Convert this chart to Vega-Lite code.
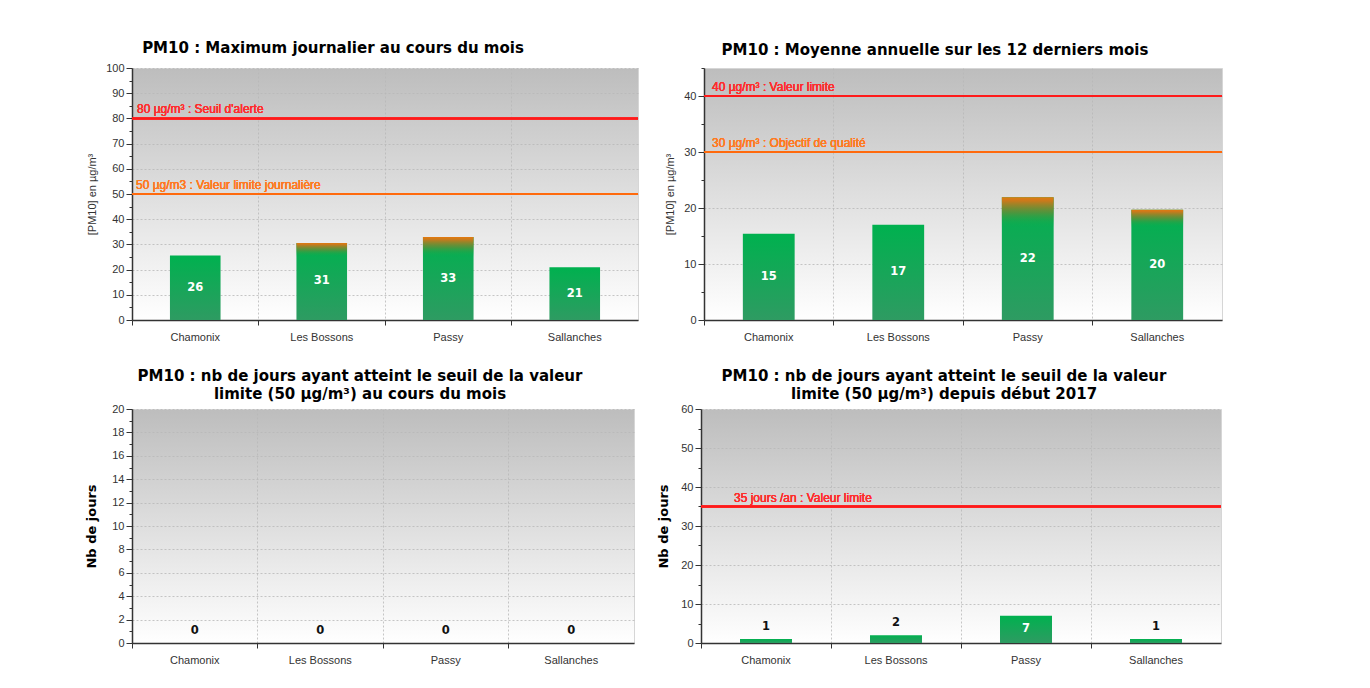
{
  "$schema": "https://vega.github.io/schema/vega-lite/v6.json",
  "background": "white",
  "padding": {"left": 85, "top": 40, "right": 5, "bottom": 5},
  "config": {
    "font": "Liberation Sans",
    "view": {
      "fill": {"gradient": "linear", "x1": 0, "y1": 0, "x2": 0, "y2": 1, "stops": [{"offset": 0, "color": "#bdbdbd"}, {"offset": 0.55, "color": "#e2e2e2"}, {"offset": 1, "color": "#ffffff"}]},
      "stroke": "#d6d6d6"
    },
    "axis": {
      "labelFont": "Liberation Sans", "labelFontSize": 11, "labelColor": "#333333",
      "domainColor": "#333333", "domainWidth": 1.5, "tickColor": "#333333",
      "gridColor": "#b8b8b8", "gridDash": [2, 2], "gridWidth": 0.8,
      "titleFont": "Liberation Sans", "titleFontSize": 11, "titleFontWeight": "normal", "titleColor": "#333333",
      "labelOverlap": false
    },
    "title": {"font": "DejaVu Sans", "fontSize": 15, "fontWeight": "bold", "color": "#000000", "anchor": "middle", "frame": "group", "lineHeight": 18}
  },
  "datasets": {
    "max_jour": [
      {"station": "Chamonix", "valeur": 25.6},
      {"station": "Les Bossons", "valeur": 30.6},
      {"station": "Passy", "valeur": 32.9},
      {"station": "Sallanches", "valeur": 20.9}
    ],
    "moy_ann": [
      {"station": "Chamonix", "valeur": 15.4},
      {"station": "Les Bossons", "valeur": 17.0},
      {"station": "Passy", "valeur": 21.9},
      {"station": "Sallanches", "valeur": 19.7}
    ],
    "jours_mois": [
      {"station": "Chamonix", "valeur": 0},
      {"station": "Les Bossons", "valeur": 0},
      {"station": "Passy", "valeur": 0},
      {"station": "Sallanches", "valeur": 0}
    ],
    "jours_annee": [
      {"station": "Chamonix", "valeur": 1},
      {"station": "Les Bossons", "valeur": 2},
      {"station": "Passy", "valeur": 7},
      {"station": "Sallanches", "valeur": 1}
    ]
  },
  "bounds": "flush",
  "spacing": 341,
  "vconcat": [
    {
      "bounds": "flush",
      "spacing": 66,
      "hconcat": [
        {
          "width": 506, "height": 252,
          "title": {"text": "PM10 : Maximum journalier au cours du mois", "dx": -52, "offset": 6},
          "data": {"name": "max_jour"},
          "layer": [
            {
              "layer": [
                {"mark": {"type": "bar", "width": {"band": 0.4}, "color": {"gradient": "linear", "x1": 0, "y1": 0, "x2": 0, "y2": 1, "stops": [{"offset": 0, "color": "#00b14f"}, {"offset": 1, "color": "#2e9b62"}]}},
                 "encoding": {
                   "x": {"field": "station", "type": "nominal", "sort": null, "scale": {"paddingInner": 0, "paddingOuter": 0},
                         "axis": {"title": null, "labelAngle": 0, "bandPosition": 0, "tickSize": 5, "grid": true, "labelPadding": 6}},
                   "y": {"field": "valeur", "type": "quantitative", "scale": {"domain": [0, 100], "nice": false},
                   "axis": {"title": "[PM10] en µg/m³", "titlePadding": 8, "format": "d", "labelOverlap": false, "tickCount": 1000, "values": [0,5,10,15,20,25,30,35,40,45,50,55,60,65,70,75,80,85,90,95,100],
                            "labelExpr": "datum.value % 10 === 0 ? datum.label : ''",
                            "tickSize": {"condition": {"test": "datum.value % 10 === 0", "value": 6}, "value": 3},
                            "gridOpacity": {"condition": {"test": "datum.value % 10 === 0", "value": 1}, "value": 0}}}}},
                {"transform": [{"filter": "datum.valeur > 28"}],
                 "mark": {"type": "bar", "width": {"band": 0.4}, "color": {"gradient": "linear", "x1": 0, "y1": 0, "x2": 0, "y2": 1, "stops": [{"offset": 0, "color": "#e27a10"}, {"offset": 0.12, "color": "#c87a1c"}, {"offset": 0.5, "color": "rgba(120,135,50,0.65)"}, {"offset": 1, "color": "rgba(0,177,79,0)"}]}},
                 "encoding": {"x": {"field": "station", "type": "nominal", "sort": null}, "y": {"field": "valeur", "type": "quantitative"}, "y2": {"datum": 25}}},
                {"mark": {"type": "rule", "color": "#ff1a1a", "strokeWidth": 2}, "encoding": {"y": {"datum": 80}}},
                {"mark": {"type": "text", "color": "#ff2e2e", "align": "left", "baseline": "bottom", "dx": 5, "dy": -2, "fontSize": 12},
                 "encoding": {"x": {"datum": "Chamonix", "bandPosition": 0}, "y": {"datum": 80}, "text": {"value": "80 µg/m³ : Seuil d'alerte"}}},
                {"mark": {"type": "rule", "color": "#ff6a0d", "strokeWidth": 2}, "encoding": {"y": {"datum": 50}}},
                {"mark": {"type": "text", "color": "#ff7a22", "align": "left", "baseline": "bottom", "dx": 4, "dy": -2, "fontSize": 12},
                 "encoding": {"x": {"datum": "Chamonix", "bandPosition": 0}, "y": {"datum": 50}, "text": {"value": "50 µg/m3 : Valeur limite journalière"}}}
              ]
            },
            {"mark": {"type": "text", "color": "white", "font": "DejaVu Sans", "fontWeight": "bold", "fontSize": 11.5, "baseline": "middle"},
             "encoding": {"x": {"field": "station", "type": "nominal", "sort": null},
                          "y": {"field": "valeur", "type": "quantitative", "scale": {"domain": [0, 200], "nice": false}, "axis": null},
                          "text": {"field": "valeur", "type": "quantitative", "format": ".0f"}}}
          ],
          "resolve": {"scale": {"y": "independent"}, "axis": {"y": "independent"}}
        },
        {
          "width": 518, "height": 252,
          "title": {"text": "PM10 : Moyenne annuelle sur les 12 derniers mois", "dx": -28, "offset": 4},
          "data": {"name": "moy_ann"},
          "layer": [
            {
              "layer": [
                {"mark": {"type": "bar", "width": {"band": 0.4}, "color": {"gradient": "linear", "x1": 0, "y1": 0, "x2": 0, "y2": 1, "stops": [{"offset": 0, "color": "#00b14f"}, {"offset": 1, "color": "#2e9b62"}]}},
                 "encoding": {
                   "x": {"field": "station", "type": "nominal", "sort": null, "scale": {"paddingInner": 0, "paddingOuter": 0},
                         "axis": {"title": null, "labelAngle": 0, "bandPosition": 0, "tickSize": 5, "grid": true, "labelPadding": 6}},
                   "y": {"field": "valeur", "type": "quantitative", "scale": {"domain": [0, 45], "nice": false},
                   "axis": {"title": "[PM10] en µg/m³", "titlePadding": 8, "format": "d", "labelOverlap": false, "tickCount": 1000, "values": [0,5,10,15,20,25,30,35,40,45],
                            "labelExpr": "datum.value % 10 === 0 ? datum.label : ''",
                            "tickSize": {"condition": {"test": "datum.value % 10 === 0", "value": 6}, "value": 3},
                            "gridOpacity": {"condition": {"test": "datum.value % 10 === 0", "value": 1}, "value": 0}}}}},
                {"transform": [{"filter": "datum.valeur > 18"}],
                 "mark": {"type": "bar", "width": {"band": 0.4}, "color": {"gradient": "linear", "x1": 0, "y1": 0, "x2": 0, "y2": 1, "stops": [{"offset": 0, "color": "#e27a10"}, {"offset": 0.12, "color": "#c87a1c"}, {"offset": 0.5, "color": "rgba(120,135,50,0.65)"}, {"offset": 1, "color": "rgba(0,177,79,0)"}]}},
                 "encoding": {"x": {"field": "station", "type": "nominal", "sort": null}, "y": {"field": "valeur", "type": "quantitative"}, "y2": {"datum": 16.5}}},
                {"mark": {"type": "rule", "color": "#ff1a1a", "strokeWidth": 2}, "encoding": {"y": {"datum": 40}}},
                {"mark": {"type": "text", "color": "#ff2e2e", "align": "left", "baseline": "bottom", "dx": 8, "dy": -2, "fontSize": 12},
                 "encoding": {"x": {"datum": "Chamonix", "bandPosition": 0}, "y": {"datum": 40}, "text": {"value": "40 µg/m³ : Valeur limite"}}},
                {"mark": {"type": "rule", "color": "#ff6a0d", "strokeWidth": 2}, "encoding": {"y": {"datum": 30}}},
                {"mark": {"type": "text", "color": "#ff7a22", "align": "left", "baseline": "bottom", "dx": 8, "dy": -2, "fontSize": 12},
                 "encoding": {"x": {"datum": "Chamonix", "bandPosition": 0}, "y": {"datum": 30}, "text": {"value": "30 µg/m³ : Objectif de qualité"}}}
              ]
            },
            {"mark": {"type": "text", "color": "white", "font": "DejaVu Sans", "fontWeight": "bold", "fontSize": 11.5, "baseline": "middle"},
             "encoding": {"x": {"field": "station", "type": "nominal", "sort": null},
                          "y": {"field": "valeur", "type": "quantitative", "scale": {"domain": [0, 90], "nice": false}, "axis": null},
                          "text": {"field": "valeur", "type": "quantitative", "format": ".0f"}}}
          ],
          "resolve": {"scale": {"y": "independent"}, "axis": {"y": "independent"}}
        }
      ]
    },
    {
      "bounds": "flush",
      "spacing": 67,
      "hconcat": [
        {
          "width": 502, "height": 234,
          "title": {"text": ["PM10 : nb de jours ayant atteint le seuil de la valeur", "limite (50 µg/m³) au cours du mois"], "dx": -23, "offset": 1},
          "data": {"name": "jours_mois"},
          "layer": [
            {"mark": {"type": "bar", "width": {"band": 0.4}, "color": {"gradient": "linear", "x1": 0, "y1": 0, "x2": 0, "y2": 1, "stops": [{"offset": 0, "color": "#00b14f"}, {"offset": 1, "color": "#2e9b62"}]}},
             "encoding": {
               "x": {"field": "station", "type": "nominal", "sort": null, "scale": {"paddingInner": 0, "paddingOuter": 0},
                     "axis": {"title": null, "labelAngle": 0, "bandPosition": 0, "tickSize": 5, "grid": true, "labelPadding": 6}},
               "y": {"field": "valeur", "type": "quantitative", "scale": {"domain": [0, 20], "nice": false},
               "axis": {"title": "Nb de jours", "titleFont": "DejaVu Sans", "titleFontSize": 13, "titleFontWeight": "bold", "titleColor": "#000000", "titlePadding": 13, "format": "d", "labelOverlap": false, "tickCount": 1000,
                        "values": [0,1,2,3,4,5,6,7,8,9,10,11,12,13,14,15,16,17,18,19,20],
                        "labelExpr": "datum.value % 2 === 0 ? datum.label : ''",
                        "tickSize": {"condition": {"test": "datum.value % 2 === 0", "value": 6}, "value": 3},
                        "gridOpacity": {"condition": {"test": "datum.value % 2 === 0", "value": 1}, "value": 0}}}}},
            {"mark": {"type": "text", "color": "#111111", "font": "DejaVu Sans", "fontWeight": "bold", "fontSize": 11.5, "baseline": "middle", "dy": -12},
             "encoding": {"x": {"field": "station", "type": "nominal", "sort": null},
                          "y": {"field": "valeur", "type": "quantitative"}, "text": {"field": "valeur", "type": "quantitative", "format": ".0f"}}}
          ]
        },
        {
          "width": 520, "height": 234,
          "title": {"text": ["PM10 : nb de jours ayant atteint le seuil de la valeur", "limite (50 µg/m³) depuis début 2017"], "dx": -17, "offset": 1},
          "data": {"name": "jours_annee"},
          "layer": [
            {
              "layer": [
                {"mark": {"type": "bar", "width": {"band": 0.4}, "color": {"gradient": "linear", "x1": 0, "y1": 0, "x2": 0, "y2": 1, "stops": [{"offset": 0, "color": "#00b14f"}, {"offset": 1, "color": "#2e9b62"}]}},
                 "encoding": {
                   "x": {"field": "station", "type": "nominal", "sort": null, "scale": {"paddingInner": 0, "paddingOuter": 0},
                         "axis": {"title": null, "labelAngle": 0, "bandPosition": 0, "tickSize": 5, "grid": true, "labelPadding": 6}},
                   "y": {"field": "valeur", "type": "quantitative", "scale": {"domain": [0, 60], "nice": false},
                   "axis": {"title": "Nb de jours", "titleFont": "DejaVu Sans", "titleFontSize": 13, "titleFontWeight": "bold", "titleColor": "#000000", "titlePadding": 10, "format": "d", "labelOverlap": false, "tickCount": 1000,
                            "values": [0,5,10,15,20,25,30,35,40,45,50,55,60],
                            "labelExpr": "datum.value % 10 === 0 ? datum.label : ''",
                            "tickSize": {"condition": {"test": "datum.value % 10 === 0", "value": 6}, "value": 3},
                            "gridOpacity": {"condition": {"test": "datum.value % 10 === 0", "value": 1}, "value": 0}}}}},
                {"mark": {"type": "rule", "color": "#ff1a1a", "strokeWidth": 2}, "encoding": {"y": {"datum": 35}}},
                {"mark": {"type": "text", "color": "#ff2e2e", "align": "left", "baseline": "bottom", "dx": 33, "dy": -2, "fontSize": 12},
                 "encoding": {"x": {"datum": "Chamonix", "bandPosition": 0}, "y": {"datum": 35}, "text": {"value": "35 jours /an  : Valeur limite"}}},
                {"transform": [{"filter": "datum.valeur < 5"}],
                 "mark": {"type": "text", "color": "#111111", "font": "DejaVu Sans", "fontWeight": "bold", "fontSize": 11.5, "baseline": "middle", "dy": -12},
                 "encoding": {"x": {"field": "station", "type": "nominal", "sort": null},
                              "y": {"field": "valeur", "type": "quantitative"}, "text": {"field": "valeur", "type": "quantitative", "format": ".0f"}}}
              ]
            },
            {"transform": [{"filter": "datum.valeur >= 5"}],
             "mark": {"type": "text", "color": "white", "font": "DejaVu Sans", "fontWeight": "bold", "fontSize": 11.5, "baseline": "middle"},
             "encoding": {"x": {"field": "station", "type": "nominal", "sort": null},
                          "y": {"field": "valeur", "type": "quantitative", "scale": {"domain": [0, 120], "nice": false}, "axis": null},
                          "text": {"field": "valeur", "type": "quantitative", "format": ".0f"}}}
          ],
          "resolve": {"scale": {"y": "independent"}, "axis": {"y": "independent"}}
        }
      ]
    }
  ]
}
